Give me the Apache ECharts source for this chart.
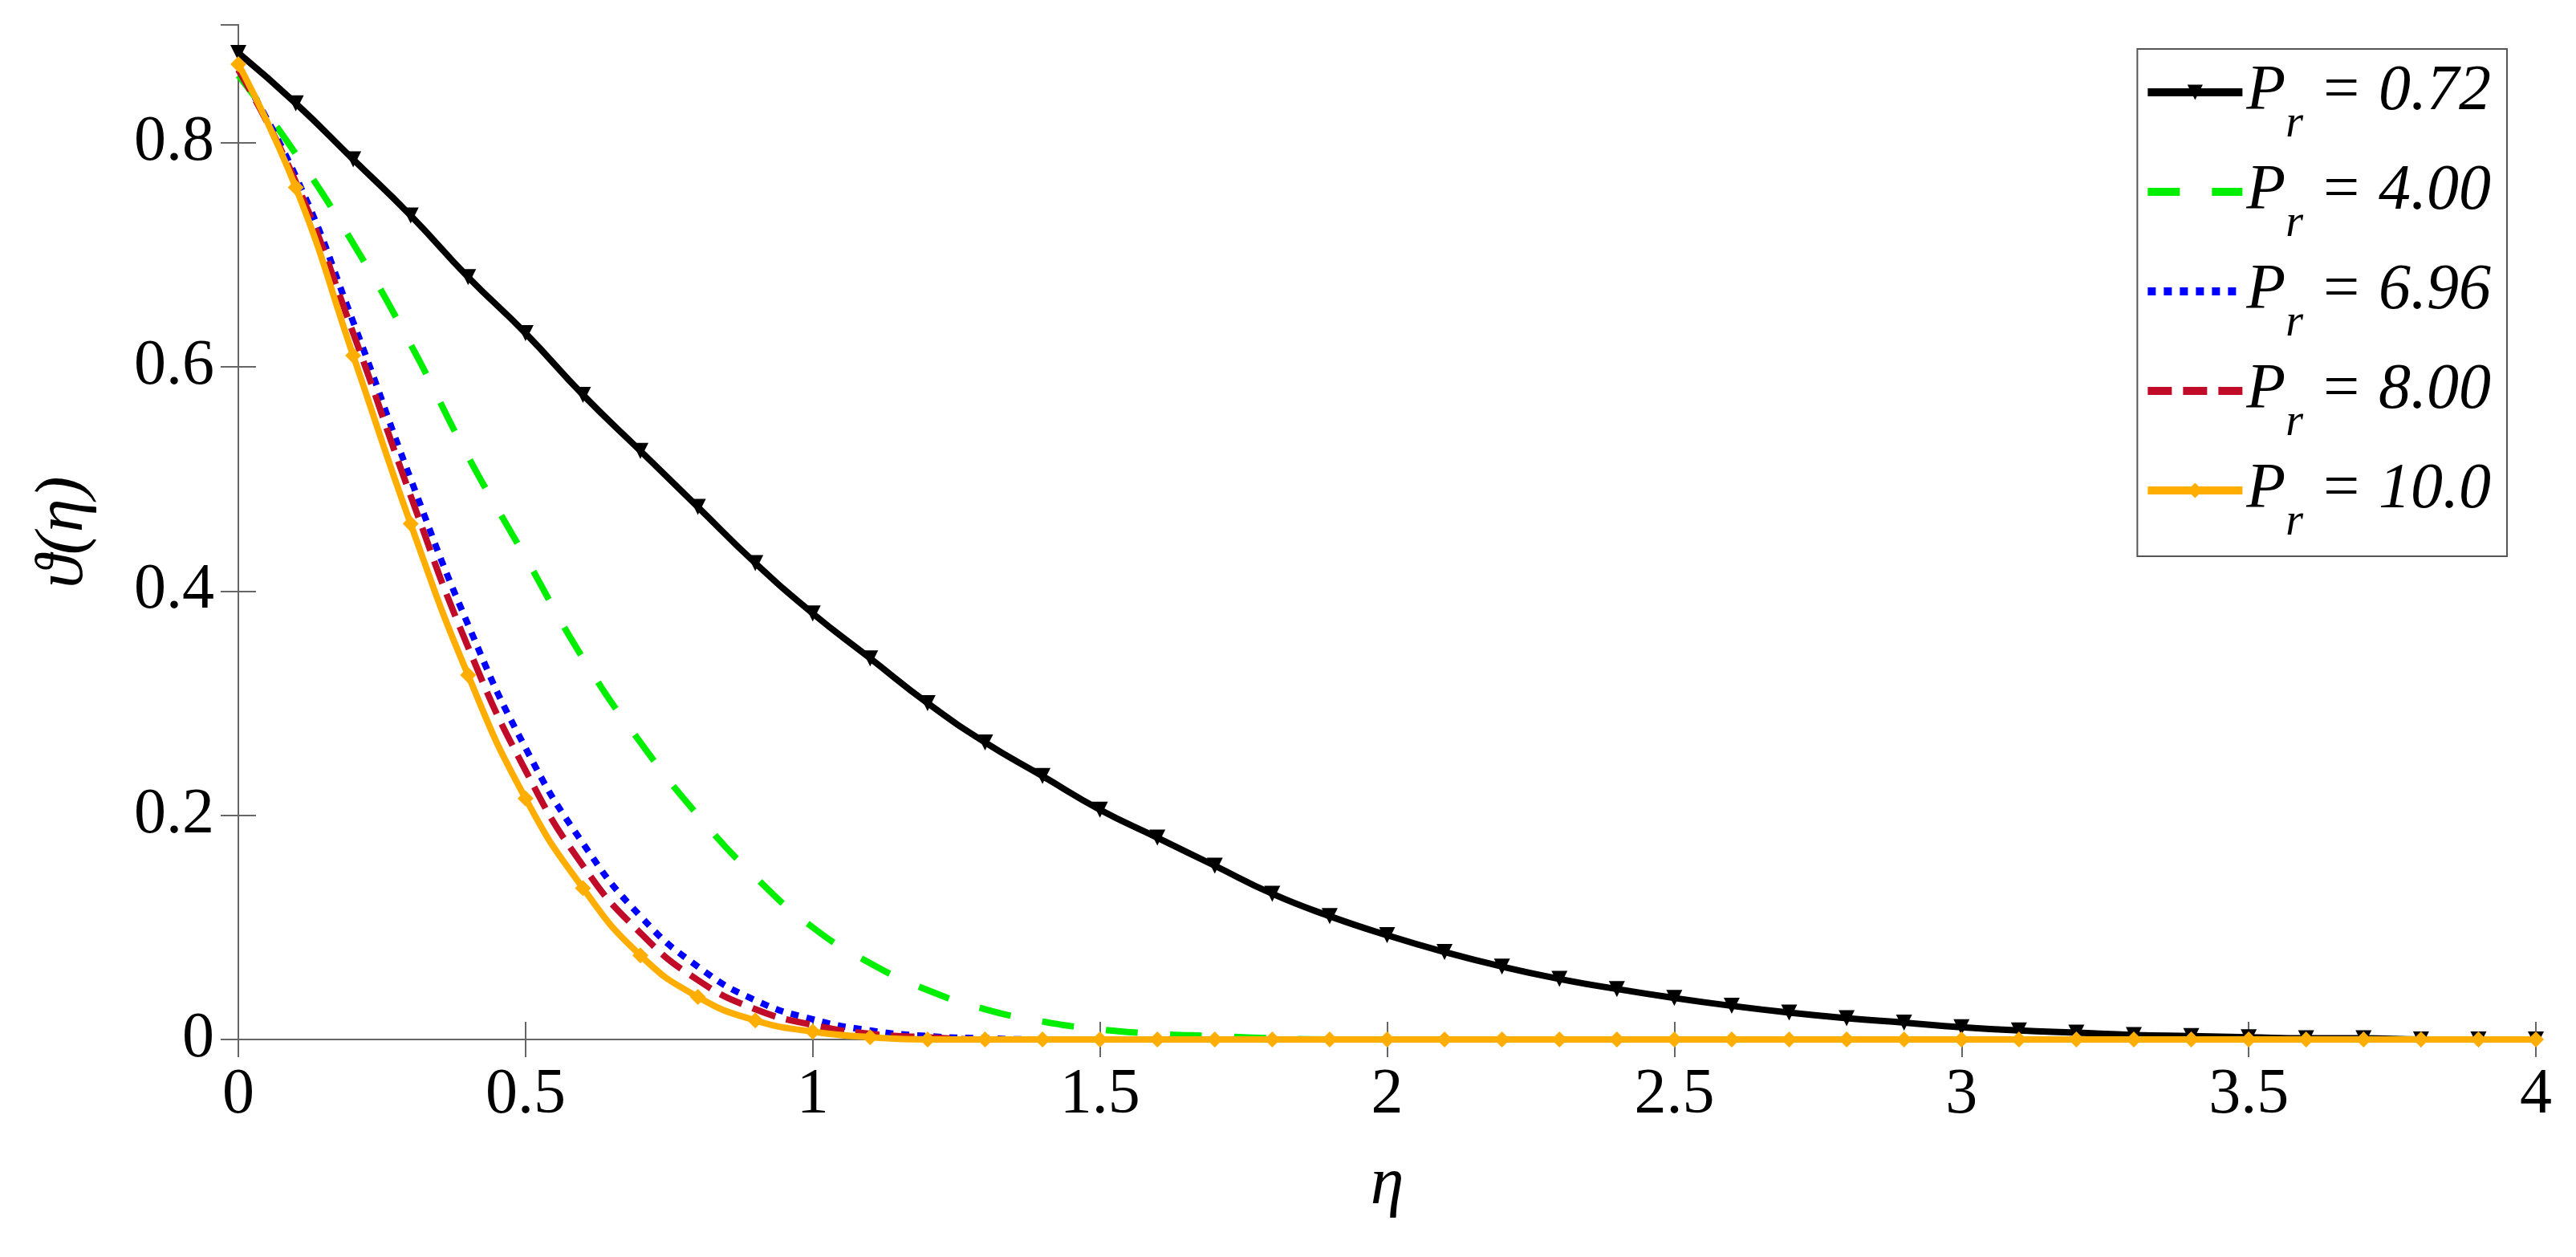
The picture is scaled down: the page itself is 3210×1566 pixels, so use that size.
<!DOCTYPE html>
<html>
<head>
<meta charset="utf-8">
<script src="https://cdn.jsdelivr.net/npm/echarts@6/dist/echarts.min.js"></script>
<style>html,body{margin:0;background:#fff}#c{width:3210px;height:1566px}</style>
</head>
<body>
<div id="c"></div>
<script>
const eta = [];
for (let i = 0; i <= 40; i++) eta.push(+(i * 0.1).toFixed(1));

const pr072 = [0.88,0.835,0.785,0.735,0.68,0.63,0.575,0.525,0.475,0.425,0.38,0.34,0.30,0.265,0.235,0.205,0.18,0.155,0.13,0.11,0.093,0.078,0.065,0.054,0.045,0.037,0.030,0.024,0.019,0.015,0.011,0.008,0.006,0.004,0.003,0.002,0.001,0.001,0,0,0];
const pr400 = [0.86,0.79,0.71,0.62,0.52,0.43,0.34,0.265,0.2,0.145,0.10,0.068,0.044,0.027,0.016,0.009,0.005,0.003,0.001,0,0,0,0,0,0,0,0,0,0,0,0,0,0,0,0,0,0,0,0,0,0];
const pr696 = [0.865,0.77,0.64,0.5,0.37,0.26,0.175,0.11,0.065,0.035,0.018,0.008,0.003,0.001,0,0,0,0,0,0,0,0,0,0,0,0,0,0,0,0,0,0,0,0,0,0,0,0,0,0,0];
const pr800 = [0.865,0.765,0.63,0.485,0.35,0.24,0.155,0.095,0.053,0.027,0.013,0.005,0.002,0,0,0,0,0,0,0,0,0,0,0,0,0,0,0,0,0,0,0,0,0,0,0,0,0,0,0,0];
const pr100 = [0.87,0.76,0.61,0.46,0.325,0.215,0.135,0.075,0.038,0.017,0.007,0.002,0,0,0,0,0,0,0,0,0,0,0,0,0,0,0,0,0,0,0,0,0,0,0,0,0,0,0,0,0];
const prLabels = ['0.72', '4.00', '6.96', '8.00', '10.0'];

const font = 'Liberation Serif';
const pair = a => eta.map((x, i) => [x, a[i]]);

function series(name, data, color, type, symbol, symSize) {
  return {
    name: name, type: 'line', data: pair(data), smooth: true,
    symbol: symbol || 'none', symbolSize: symSize || 0,
    showSymbol: !!symbol,
    lineStyle: { color: color, width: 8, type: type || 'solid' },
    itemStyle: { color: color },
    z: 3
  };
}

const chart = echarts.init(document.getElementById('c'));
const axisCommon = {
  type: 'value',
  axisLine: { show: true, lineStyle: { color: '#666', width: 2 } },
  axisTick: { show: true, inside: true, length: 22, lineStyle: { color: '#666', width: 2 } },
  splitLine: { show: false }
};
chart.setOption({
  animation: false,
  grid: { left: 297, right: 50, top: 31, bottom: 271 },
  xAxis: [
    Object.assign({}, axisCommon, {
      min: 0, max: 4, interval: 0.5,
      name: 'η', nameLocation: 'middle', nameGap: 140,
      nameTextStyle: { fontFamily: font, fontStyle: 'italic', fontSize: 84, color: '#000' },
      axisLabel: { fontFamily: font, fontSize: 80, color: '#000', margin: 30 }
    }),
    Object.assign({}, axisCommon, { position: 'top', min: 0, max: 4, interval: 0.5, axisLabel: { show: false } })
  ],
  yAxis: [
    Object.assign({}, axisCommon, {
      min: 0, max: 0.905, interval: 0.2,
      name: 'ϑ(η)', nameLocation: 'middle', nameGap: 175, nameRotate: 90,
      nameTextStyle: { fontFamily: font, fontStyle: 'italic', fontSize: 84, color: '#000' },
      axisLabel: { fontFamily: font, fontSize: 80, color: '#000', margin: 30, showMaxLabel: false,
        formatter: v => (Math.round(v * 10) % 2 === 0 && v <= 0.8 + 1e-9) ? String(+v.toFixed(1)) : '' }
    }),
    Object.assign({}, axisCommon, { position: 'right', min: 0, max: 0.905, interval: 0.2, axisLabel: { show: false } })
  ],
  legend: {
    right: 86, top: 61, orient: 'vertical',
    backgroundColor: '#fff', borderColor: '#555', borderWidth: 2,
    padding: [14, 20, 14, 8], itemGap: 16, itemWidth: 118, itemHeight: 24,
    lineStyle: { width: 10 },
    formatter: n => '{p|P}{s|r}{t| = ' + n + '}',
    textStyle: {
      rich: {
        p: { fontFamily: font, fontStyle: 'italic', fontSize: 80, color: '#000' },
        s: { fontFamily: font, fontStyle: 'italic', fontSize: 56, color: '#000', padding: [80, 0, 0, 0] },
        t: { fontFamily: font, fontStyle: 'italic', fontSize: 80, color: '#000' }
      }
    },
    data: [
      { name: prLabels[0] },
      { name: prLabels[1], itemStyle: { opacity: 0 } },
      { name: prLabels[2], itemStyle: { opacity: 0 } },
      { name: prLabels[3], itemStyle: { opacity: 0 } },
      { name: prLabels[4] }
    ]
  },
  series: [
    series(prLabels[0], pr072, '#000000', 'solid', 'triangle', 20),
    series(prLabels[1], pr400, '#00ee00', [40, 40], null),
    series(prLabels[2], pr696, '#0000ff', [10, 10], null),
    series(prLabels[3], pr800, '#c00c28', [30, 14], null),
    series(prLabels[4], pr100, '#ffae00', 'solid', 'diamond', 20)
  ].map(s => { if (s.symbol === 'triangle') s.symbolRotate = 180; return s; })
});
</script>
</body>
</html>
